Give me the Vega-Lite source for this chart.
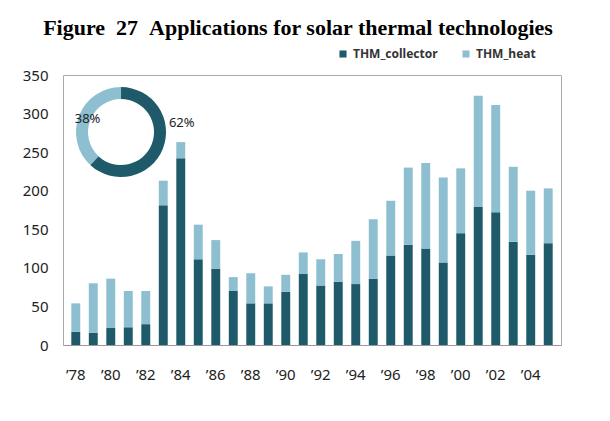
{
  "$schema": "https://vega.github.io/schema/vega-lite/v6.json",
  "width": 498,
  "height": 270,
  "autosize": "none",
  "padding": {"left": 63, "top": 75, "right": 49, "bottom": 76},
  "background": "white",
  "title": {
    "text": "Figure\u00a0\u00a027\u00a0\u00a0Applications for solar thermal technologies",
    "font": "Liberation Serif",
    "fontSize": 22,
    "fontWeight": "bold",
    "color": "#000000",
    "anchor": "middle",
    "dx": -14,
    "offset": 8
  },
  "config": {
    "view": {"stroke": "#aaaaaa", "strokeWidth": 1},
    "font": "Noto Sans",
    "axisY": {
      "title": null,
      "values": [0, 50, 100, 150, 200, 250, 300, 350],
      "ticks": false,
      "domain": false,
      "grid": false,
      "labelOverlap": false,
      "labelFlush": false,
      "labelPadding": 15,
      "labelFont": "Noto Sans",
      "labelFontSize": 15,
      "labelColor": "#222222"
    }
  },
  "datasets": {
    "bars": [
      {"year": 1978, "series": "THM_collector", "value": 17}, {"year": 1978, "series": "THM_heat", "value": 37},
      {"year": 1979, "series": "THM_collector", "value": 16}, {"year": 1979, "series": "THM_heat", "value": 64},
      {"year": 1980, "series": "THM_collector", "value": 22}, {"year": 1980, "series": "THM_heat", "value": 64},
      {"year": 1981, "series": "THM_collector", "value": 23}, {"year": 1981, "series": "THM_heat", "value": 47},
      {"year": 1982, "series": "THM_collector", "value": 27}, {"year": 1982, "series": "THM_heat", "value": 43},
      {"year": 1983, "series": "THM_collector", "value": 181}, {"year": 1983, "series": "THM_heat", "value": 32},
      {"year": 1984, "series": "THM_collector", "value": 242}, {"year": 1984, "series": "THM_heat", "value": 21},
      {"year": 1985, "series": "THM_collector", "value": 111}, {"year": 1985, "series": "THM_heat", "value": 45},
      {"year": 1986, "series": "THM_collector", "value": 99}, {"year": 1986, "series": "THM_heat", "value": 37},
      {"year": 1987, "series": "THM_collector", "value": 70}, {"year": 1987, "series": "THM_heat", "value": 18},
      {"year": 1988, "series": "THM_collector", "value": 54}, {"year": 1988, "series": "THM_heat", "value": 39},
      {"year": 1989, "series": "THM_collector", "value": 54}, {"year": 1989, "series": "THM_heat", "value": 22},
      {"year": 1990, "series": "THM_collector", "value": 69}, {"year": 1990, "series": "THM_heat", "value": 22},
      {"year": 1991, "series": "THM_collector", "value": 92}, {"year": 1991, "series": "THM_heat", "value": 28},
      {"year": 1992, "series": "THM_collector", "value": 77}, {"year": 1992, "series": "THM_heat", "value": 34},
      {"year": 1993, "series": "THM_collector", "value": 82}, {"year": 1993, "series": "THM_heat", "value": 36},
      {"year": 1994, "series": "THM_collector", "value": 79}, {"year": 1994, "series": "THM_heat", "value": 56},
      {"year": 1995, "series": "THM_collector", "value": 86}, {"year": 1995, "series": "THM_heat", "value": 77},
      {"year": 1996, "series": "THM_collector", "value": 116}, {"year": 1996, "series": "THM_heat", "value": 71},
      {"year": 1997, "series": "THM_collector", "value": 130}, {"year": 1997, "series": "THM_heat", "value": 100},
      {"year": 1998, "series": "THM_collector", "value": 125}, {"year": 1998, "series": "THM_heat", "value": 111},
      {"year": 1999, "series": "THM_collector", "value": 107}, {"year": 1999, "series": "THM_heat", "value": 110},
      {"year": 2000, "series": "THM_collector", "value": 145}, {"year": 2000, "series": "THM_heat", "value": 84},
      {"year": 2001, "series": "THM_collector", "value": 179}, {"year": 2001, "series": "THM_heat", "value": 144},
      {"year": 2002, "series": "THM_collector", "value": 172}, {"year": 2002, "series": "THM_heat", "value": 139},
      {"year": 2003, "series": "THM_collector", "value": 134}, {"year": 2003, "series": "THM_heat", "value": 97},
      {"year": 2004, "series": "THM_collector", "value": 117}, {"year": 2004, "series": "THM_heat", "value": 83},
      {"year": 2005, "series": "THM_collector", "value": 132}, {"year": 2005, "series": "THM_heat", "value": 71}
    ],
    "donut": [
      {"series": "THM_collector", "share": 0.62},
      {"series": "THM_heat", "share": 0.38}
    ]
  },
  "layer": [
    {
      "data": {"name": "bars"},
      "mark": {"type": "bar"},
      "encoding": {
        "x": {
          "field": "year",
          "type": "ordinal",
          "scale": {"paddingInner": 0.49, "paddingOuter": 0.475},
          "axis": {
            "title": null,
            "labelAngle": 0,
            "ticks": false,
            "domainColor": "#999999",
            "labelPadding": 22,
            "labelFont": "Noto Sans",
            "labelFontSize": 15,
            "labelColor": "#222222",
            "labelOverlap": false,
            "labelExpr": "datum.value % 2 == 0 ? '’' + slice(toString(datum.value), 2) : ''"
          }
        },
        "y": {
          "field": "value",
          "type": "quantitative",
          "stack": "zero",
          "scale": {"domain": [0, 350], "nice": false},
          "axis": {"values": [0, 50, 100, 150, 200, 250, 300, 350], "labelOverlap": false}
        },
        "color": {
          "field": "series",
          "type": "nominal",
          "scale": {"domain": ["THM_collector", "THM_heat"], "range": ["#1e5a6a", "#8dbfd1"]},
          "legend": {
            "orient": "none",
            "legendX": 274,
            "legendY": -27,
            "direction": "horizontal",
            "title": null,
            "symbolType": "square",
            "symbolSize": 50,
            "symbolStrokeWidth": 0,
            "labelFont": "Noto Sans",
            "labelFontSize": 12,
            "labelFontWeight": "bold",
            "labelColor": "#333333",
            "columnPadding": 22
          }
        },
        "order": {"field": "series", "sort": "ascending"}
      }
    },
    {
      "data": {"name": "donut"},
      "mark": {"type": "arc", "innerRadius": 33, "outerRadius": 45},
      "encoding": {
        "theta": {"field": "share", "type": "quantitative", "stack": true},
        "color": {"field": "series", "type": "nominal"},
        "order": {"field": "series", "sort": "ascending"},
        "x": {"datum": 1980, "type": "ordinal", "bandPosition": 1.65},
        "y": {"datum": 276, "type": "quantitative", "axis": {"values": [0, 50, 100, 150, 200, 250, 300, 350], "labelOverlap": false}}
      }
    },
    {
      "data": {"name": "donut"},
      "mark": {"type": "text", "radius": 36, "font": "Noto Sans", "fontSize": 13, "color": "#222222"},
      "encoding": {
        "theta": {"field": "share", "type": "quantitative", "stack": true},
        "order": {"field": "series", "sort": "ascending"},
        "x": {"datum": 1980, "type": "ordinal", "bandPosition": 1.65},
        "y": {"datum": 276, "type": "quantitative", "axis": {"values": [0, 50, 100, 150, 200, 250, 300, 350], "labelOverlap": false}},
        "text": {
          "condition": {"test": "datum.series == 'THM_heat'", "field": "share", "type": "quantitative", "format": ".0%"},
          "value": ""
        }
      }
    },
    {
      "data": {"name": "donut"},
      "mark": {"type": "text", "radius": 61, "dy": -32, "dx": 4, "font": "Noto Sans", "fontSize": 13, "color": "#222222"},
      "encoding": {
        "theta": {"field": "share", "type": "quantitative", "stack": true},
        "order": {"field": "series", "sort": "ascending"},
        "x": {"datum": 1980, "type": "ordinal", "bandPosition": 1.65},
        "y": {"datum": 276, "type": "quantitative", "axis": {"values": [0, 50, 100, 150, 200, 250, 300, 350], "labelOverlap": false}},
        "text": {
          "condition": {"test": "datum.series == 'THM_collector'", "field": "share", "type": "quantitative", "format": ".0%"},
          "value": ""
        }
      }
    }
  ]
}
